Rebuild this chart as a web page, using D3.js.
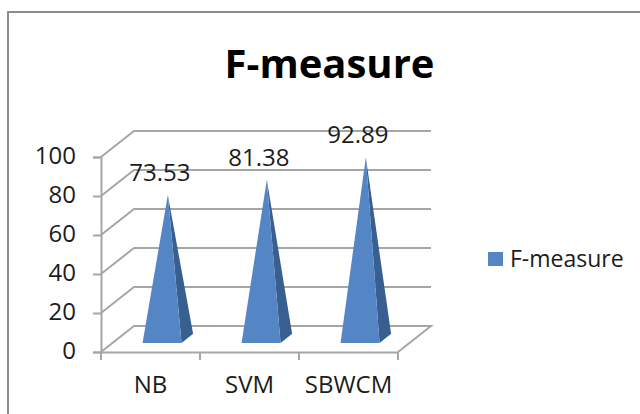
<!DOCTYPE html>
<html>
<head>
<meta charset="utf-8">
<script src="https://cdn.jsdelivr.net/npm/d3@7.9.0/dist/d3.min.js"></script>
<style>
  html, body { margin: 0; padding: 0; background: #fff; }
  svg { display: block; }
  text { font-family: "Open Sans", sans-serif; fill: #1c1c1c; }
</style>
</head>
<body>
<svg id="chart" width="640" height="414"></svg>
<script>
const categories = ["NB", "SVM", "SBWCM"];
const values = [73.53, 81.38, 92.89];
const yTicks = [0, 20, 40, 60, 80, 100];
const seriesName = "F-measure";

const svg = d3.select("#chart");

// frame, the right and bottom edges are cropped off in the source
svg.append("path")
  .attr("d", "M8,414V12H640")
  .attr("fill", "none")
  .attr("stroke", "#8c8c8c")
  .attr("stroke-width", 2);

svg.append("text")
  .attr("x", 329.5)
  .attr("y", 78)
  .attr("text-anchor", "middle")
  .style("font-size", "40px")
  .style("font-weight", "700")
  .style("fill", "#000")
  .text("F-measure");

// front plane of the 3d box
const x = d3.scaleBand().domain(categories).range([101, 398]);
const y = d3.scaleLinear().domain([0, 100]).range([352, 157]);
const depth = { x: 33, y: -26 };
const gridColor = "#a6a6a6";

const g = svg.append("g");

// gridlines: side wall + back wall
g.selectAll(".grid")
  .data(yTicks)
  .enter()
  .append("polyline")
  .attr("class", "grid")
  .attr("fill", "none")
  .attr("stroke", gridColor)
  .attr("stroke-width", 2)
  .attr("points", d => {
    const y0 = y(d);
    const x1 = x.range()[0];
    const x2 = x.range()[1];
    if (d === 0) {
      return [[x1, y0], [x1 + depth.x, y0 + depth.y], [x2 + depth.x, y0 + depth.y], [x2, y0]].join(" ");
    }
    return [[x1, y0], [x1 + depth.x, y0 + depth.y], [x2 + depth.x, y0 + depth.y]].join(" ");
  });

// axes
const yAxis = g.append("g")
  .attr("transform", `translate(${x.range()[0]},0)`)
  .call(d3.axisLeft(y).tickValues(yTicks).tickSize(8).tickPadding(17));
yAxis.selectAll("text")
  .attr("dy", "0.28em")
  .style("font-size", "24px");

const xAxis = g.append("g")
  .attr("transform", `translate(0,${y(0)})`)
  .call(d3.axisBottom(x).tickSize(0).tickPadding(24));
xAxis.selectAll("text").style("font-size", "24px");
xAxis.selectAll(".tickmark")
  .data(categories.concat("end"))
  .enter()
  .append("line")
  .attr("class", "tickmark")
  .attr("x1", (d, i) => x.range()[0] + i * x.step())
  .attr("x2", (d, i) => x.range()[0] + i * x.step())
  .attr("y1", 0)
  .attr("y2", 8);
g.selectAll(".domain, .tick line, .tickmark")
  .attr("stroke", gridColor)
  .attr("stroke-width", 2);

// pyramids: front and side face, base sits inside the floor
const frontDepth = 0.35;
const backDepth = 0.7;
const midDepth = (frontDepth + backDepth) / 2;
const baseWidth = 39;

const bars = g.selectAll(".bar")
  .data(categories.map((c, i) => ({ c, v: values[i] })))
  .enter()
  .append("g")
  .attr("class", "bar");

function corners(d) {
  const cx = x(d.c) + x.bandwidth() / 2;
  const xf = cx + depth.x * frontDepth;
  const base = y(0) + depth.y * frontDepth;
  return {
    left: [xf - baseWidth / 2, base],
    right: [xf + baseWidth / 2, base],
    back: [xf + baseWidth / 2 + depth.x * (backDepth - frontDepth), y(0) + depth.y * backDepth],
    apex: [cx + depth.x * midDepth, y(d.v) + depth.y * midDepth]
  };
}

bars.append("polygon")
  .attr("fill", "#375f8f")
  .attr("points", d => {
    const p = corners(d);
    return [p.right, p.back, p.apex].join(" ");
  });

bars.append("polygon")
  .attr("fill", "#5486c6")
  .attr("points", d => {
    const p = corners(d);
    return [p.left, p.right, p.apex].join(" ");
  });

bars.append("text")
  .attr("x", d => corners(d).apex[0] - 8)
  .attr("y", d => corners(d).apex[1] - 14)
  .attr("text-anchor", "middle")
  .style("font-size", "24px")
  .text(d => d.v);

// legend
const legend = svg.append("g").attr("transform", "translate(488,252)");
legend.append("rect")
  .attr("width", 15)
  .attr("height", 14)
  .attr("fill", "#5486c6");
legend.append("text")
  .attr("x", 22)
  .attr("y", 15)
  .style("font-size", "23px")
  .text(seriesName);
</script>
</body>
</html>
